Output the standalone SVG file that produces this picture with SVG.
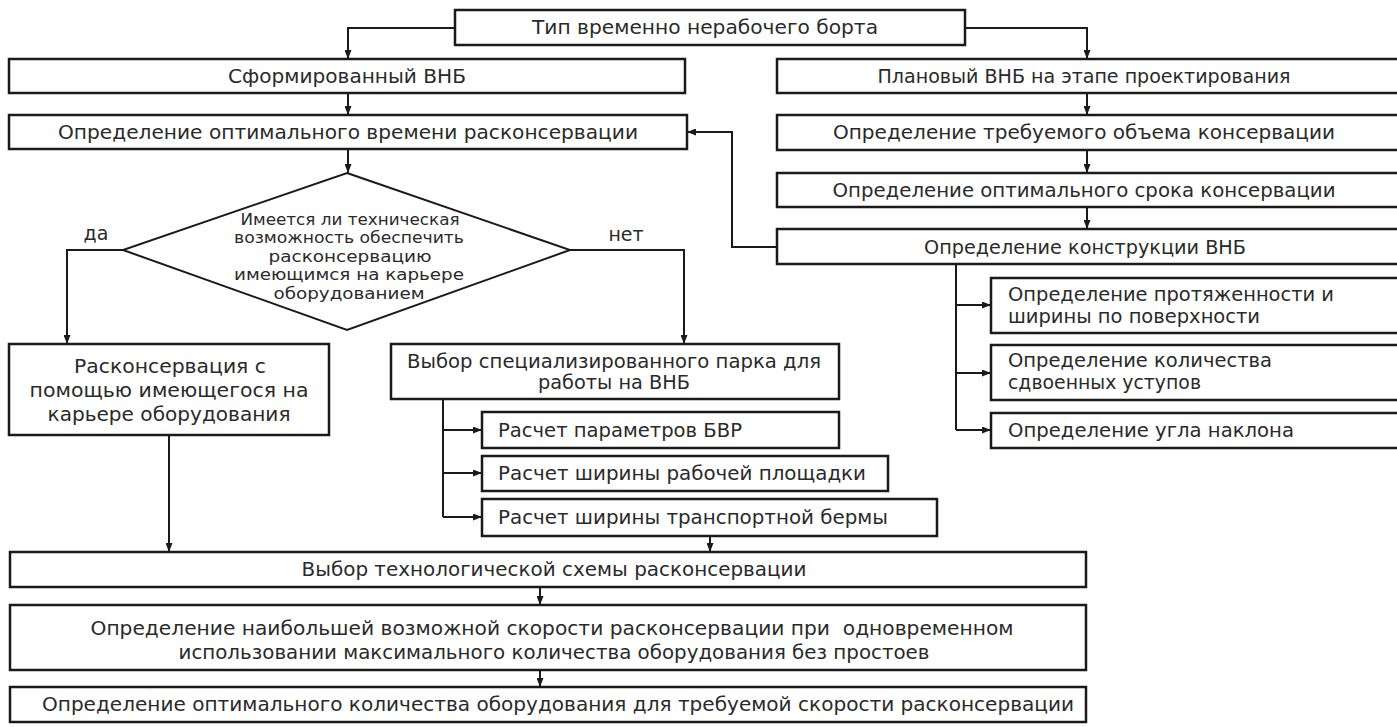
<svg xmlns="http://www.w3.org/2000/svg" width="1397" height="727" viewBox="0 0 1397 727">
<defs>
<marker id="ah" markerUnits="userSpaceOnUse" markerWidth="9" markerHeight="7" refX="9" refY="3.5" orient="auto">
<path d="M0,0 L9,3.5 L0,7 z" fill="#1a1a1a"/>
</marker>
<style>
.b{fill:#fff;stroke:#1a1a1a;stroke-width:2.5}
.t{font-family:"DejaVu Sans",sans-serif;font-size:19px;fill:#2a2a2a}
.c{text-anchor:middle}
.s{font-size:16px}
.k{fill:none;stroke:#1a1a1a;stroke-width:2;marker-end:url(#ah)}
.n{fill:none;stroke:#1a1a1a;stroke-width:2}
</style>
</defs>
<rect width="1397" height="727" fill="#fff"/>
<g id="connectors">
<path class="k" d="M455,28 H348 V59"/>
<path class="k" d="M965,28 H1087 V59"/>
<path class="k" d="M348,93 V115"/>
<path class="k" d="M348,149 V173"/>
<path class="k" d="M123,250 H67 V344"/>
<path class="k" d="M570,250 H684 V344"/>
<path class="k" d="M1087,93 V115"/>
<path class="k" d="M1087,150 V173"/>
<path class="k" d="M1087,207 V229"/>
<path class="k" d="M777,247 H732 V132 H687"/>
<path class="n" d="M956,264 V430"/>
<path class="k" d="M956,305 H991"/>
<path class="k" d="M956,373 H991"/>
<path class="k" d="M956,430 H991"/>
<path class="n" d="M443,399 V517"/>
<path class="k" d="M443,430 H482"/>
<path class="k" d="M443,473 H482"/>
<path class="k" d="M443,517 H482"/>
<path class="k" d="M169,435 V552"/>
<path class="k" d="M710,536 V552"/>
<path class="k" d="M540,587 V605"/>
<path class="k" d="M540,670 V687"/>
</g>
<g id="n1"><rect class="b" x="455" y="10" width="510" height="35"/><text class="t c" x="705" y="34" textLength="346" lengthAdjust="spacingAndGlyphs">Тип временно нерабочего борта</text></g>
<g id="n2"><rect class="b" x="9" y="59" width="676" height="34"/><text class="t c" x="347" y="83" textLength="238" lengthAdjust="spacingAndGlyphs">Сформированный ВНБ</text></g>
<g id="n3"><rect class="b" x="777" y="59" width="625" height="34"/><text class="t c" x="1084" y="83" textLength="413" lengthAdjust="spacingAndGlyphs">Плановый ВНБ на этапе проектирования</text></g>
<g id="n4"><rect class="b" x="9" y="115" width="678" height="34"/><text class="t c" x="348" y="139" textLength="580" lengthAdjust="spacingAndGlyphs">Определение оптимального времени расконсервации</text></g>
<g id="n5"><rect class="b" x="777" y="115" width="625" height="35"/><text class="t c" x="1084" y="139" textLength="502" lengthAdjust="spacingAndGlyphs">Определение требуемого объема консервации</text></g>
<g id="n6"><rect class="b" x="777" y="173" width="625" height="34"/><text class="t c" x="1084" y="197" textLength="503" lengthAdjust="spacingAndGlyphs">Определение оптимального срока консервации</text></g>
<g id="n7"><rect class="b" x="777" y="229" width="625" height="35"/><text class="t c" x="1085" y="254" textLength="322" lengthAdjust="spacingAndGlyphs">Определение конструкции ВНБ</text></g>
<g id="decision">
<polygon points="347,173 570,250 347,330 123,250" fill="#fff" stroke="#1a1a1a" stroke-width="2"/>
<text class="t c s" x="350" y="225" textLength="219" lengthAdjust="spacingAndGlyphs">Имеется ли техническая</text>
<text class="t c s" x="349" y="243" textLength="230" lengthAdjust="spacingAndGlyphs">возможность обеспечить</text>
<text class="t c s" x="350" y="262" textLength="163" lengthAdjust="spacingAndGlyphs">расконсервацию</text>
<text class="t c s" x="349" y="280" textLength="230" lengthAdjust="spacingAndGlyphs">имеющимся на карьере</text>
<text class="t c s" x="349" y="299" textLength="151" lengthAdjust="spacingAndGlyphs">оборудованием</text>
</g>
<g id="labels">
<text class="t c" x="96" y="240">да</text>
<text class="t c" x="626" y="241">нет</text>
</g>
<g id="n8"><rect class="b" x="9" y="344" width="320" height="91"/>
<text class="t c" x="170" y="373" textLength="192" lengthAdjust="spacingAndGlyphs">Расконсервация с</text>
<text class="t c" x="169" y="397" textLength="279" lengthAdjust="spacingAndGlyphs">помощью имеющегося на</text>
<text class="t c" x="169" y="421" textLength="243" lengthAdjust="spacingAndGlyphs">карьере оборудования</text></g>
<g id="n9"><rect class="b" x="391" y="344" width="448" height="55"/>
<text class="t c" x="614" y="368" textLength="414" lengthAdjust="spacingAndGlyphs">Выбор специализированного парка для</text>
<text class="t c" x="614" y="389" textLength="152" lengthAdjust="spacingAndGlyphs">работы на ВНБ</text></g>
<g id="n10"><rect class="b" x="482" y="412" width="357" height="36"/><text class="t" x="498" y="437" textLength="244" lengthAdjust="spacingAndGlyphs">Расчет параметров БВР</text></g>
<g id="n11"><rect class="b" x="482" y="456" width="406" height="35"/><text class="t" x="498" y="480" textLength="368" lengthAdjust="spacingAndGlyphs">Расчет ширины рабочей площадки</text></g>
<g id="n12"><rect class="b" x="482" y="499" width="455" height="37"/><text class="t" x="498" y="524" textLength="390" lengthAdjust="spacingAndGlyphs">Расчет ширины транспортной бермы</text></g>
<g id="n13"><rect class="b" x="991" y="278" width="411" height="55"/>
<text class="t" x="1008" y="301" textLength="326" lengthAdjust="spacingAndGlyphs">Определение протяженности и</text>
<text class="t" x="1008" y="323" textLength="252" lengthAdjust="spacingAndGlyphs">ширины по поверхности</text></g>
<g id="n14"><rect class="b" x="991" y="345" width="411" height="55"/>
<text class="t" x="1008" y="367" textLength="264" lengthAdjust="spacingAndGlyphs">Определение количества</text>
<text class="t" x="1008" y="389" textLength="193" lengthAdjust="spacingAndGlyphs">сдвоенных уступов</text></g>
<g id="n15"><rect class="b" x="991" y="413" width="411" height="35"/><text class="t" x="1008" y="437" textLength="286" lengthAdjust="spacingAndGlyphs">Определение угла наклона</text></g>
<g id="n16"><rect class="b" x="10" y="552" width="1076" height="35"/><text class="t c" x="554" y="576" textLength="505" lengthAdjust="spacingAndGlyphs">Выбор технологической схемы расконсервации</text></g>
<g id="n17"><rect class="b" x="10" y="605" width="1076" height="65"/>
<text class="t c" x="552" y="635" textLength="923" lengthAdjust="spacingAndGlyphs" xml:space="preserve">Определение наибольшей возможной скорости расконсервации при  одновременном</text>
<text class="t c" x="554" y="659" textLength="751" lengthAdjust="spacingAndGlyphs">использовании максимального количества оборудования без простоев</text></g>
<g id="n18"><rect class="b" x="10" y="687" width="1076" height="35"/><text class="t c" x="558" y="711" textLength="1032" lengthAdjust="spacingAndGlyphs">Определение оптимального количества оборудования для требуемой скорости расконсервации</text></g>
</svg>
